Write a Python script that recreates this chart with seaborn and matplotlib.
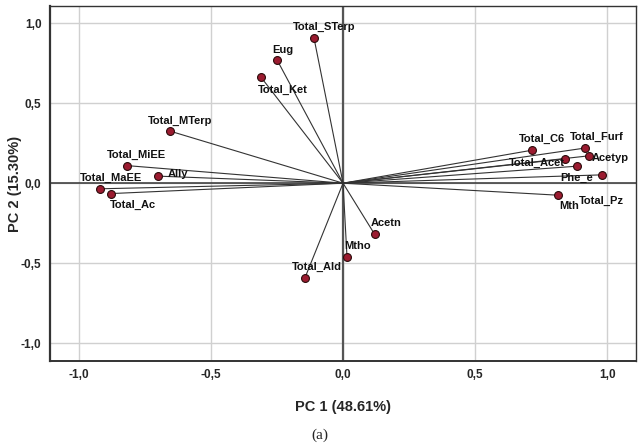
import numpy as np
import pandas as pd
import matplotlib
matplotlib.use("Agg")
import matplotlib.pyplot as plt
import seaborn as sns

# Loadings
variables = ["Total_STerp", "Eug", "Total_Ket", "Total_MTerp", "Total_MiEE", "Ally",
             "Total_MaEE", "Total_Ac", "Total_Ald", "Mtho", "Acetn", "Total_C6",
             "Total_Furf", "Acetyp", "Total_Acet", "Phe_e", "Total_Pz", "Mth"]
pc1 = [-0.11, -0.25, -0.31, -0.655, -0.82, -0.70, -0.92, -0.88, -0.144, 0.015, 0.12,
       0.716, 0.915, 0.932, 0.842, 0.885, 0.98, 0.814]
pc2 = [0.906, 0.77, 0.66, 0.325, 0.11, 0.044, -0.035, -0.065, -0.59, -0.46, -0.32,
       0.206, 0.219, 0.171, 0.152, 0.106, 0.052, -0.075]

# label offsets in pixels (dx, dy), y up
label_offsets = [(10, 11), (6, 10), (22, -12), (10, 10), (10, 11), (20, 2),
                 (11, 11), (22, -11), (12, 11), (11, 11), (11, 11), (10, 11),
                 (12, 11), (21, -2), (-29, -4), (0, -12), (0, -26), (11, -11)]

df = pd.DataFrame({"variable": variables, "PC1": pc1, "PC2": pc2})

sns.set_style("white")
plt.rcParams["font.family"] = ["Liberation Sans Narrow", "Liberation Sans", "DejaVu Sans"]

fig = plt.figure(figsize=(6.4, 4.46), dpi=100)
ax = fig.add_axes([0.078, 0.1906, 0.916, 0.7959])

ax.set_xlim(-1.11, 1.11)
ax.set_ylim(-1.11, 1.106)
ticks = [-1.0, -0.5, 0.0, 0.5, 1.0]
ax.set_xticks(ticks)
ax.set_yticks(ticks)
ax.set_xticklabels([f"{t:.1f}".replace(".", ",") for t in ticks])
ax.set_yticklabels([f"{t:.1f}".replace(".", ",") for t in ticks])
ax.tick_params(length=0, labelsize=8.5, pad=6)
for lab in ax.get_xticklabels() + ax.get_yticklabels():
    lab.set_fontweight("bold")
ax.grid(True, color="#d0d0d0", linewidth=1)
ax.set_axisbelow(True)

ax.axhline(0, color="#333333", linewidth=1.1, zorder=1)
ax.axvline(0, color="#555555", linewidth=1.6, zorder=1)

for x, y in zip(df["PC1"], df["PC2"]):
    ax.plot([0, x], [0, y], color="#333333", linewidth=0.8, zorder=2)

sns.scatterplot(data=df, x="PC1", y="PC2", ax=ax, s=32, color="#9b1b30",
                edgecolor="#2a0a0a", linewidth=0.8, zorder=3, legend=False)

for name, x, y, (dx, dy) in zip(df["variable"], df["PC1"], df["PC2"], label_offsets):
    ax.annotate(name, (x, y), xytext=(dx, dy), textcoords="offset pixels",
                ha="center", va="center", fontsize=8, fontweight="bold", color="#111111")

for side in ["left", "bottom", "top", "right"]:
    ax.spines[side].set_color("#333333")
ax.spines["left"].set_linewidth(1.6)
ax.spines["bottom"].set_linewidth(1.4)
ax.spines["top"].set_linewidth(1.0)
ax.spines["right"].set_linewidth(1.0)

ax.set_xlabel("PC 1 (48.61%)", fontsize=10.5, fontweight="bold",
              family=["Liberation Sans", "DejaVu Sans"])
ax.set_ylabel("PC 2 (15.30%)", fontsize=10.5, fontweight="bold",
              family=["Liberation Sans", "DejaVu Sans"])
ax.xaxis.set_label_coords(0.5, -0.11)
ax.yaxis.set_label_coords(-0.048, 0.5)

fig.text(0.5, 0.025, "(a)", ha="center", va="center", fontsize=11,
         family=["Liberation Serif", "DejaVu Serif"])

fig.savefig("out.png", dpi=100)
